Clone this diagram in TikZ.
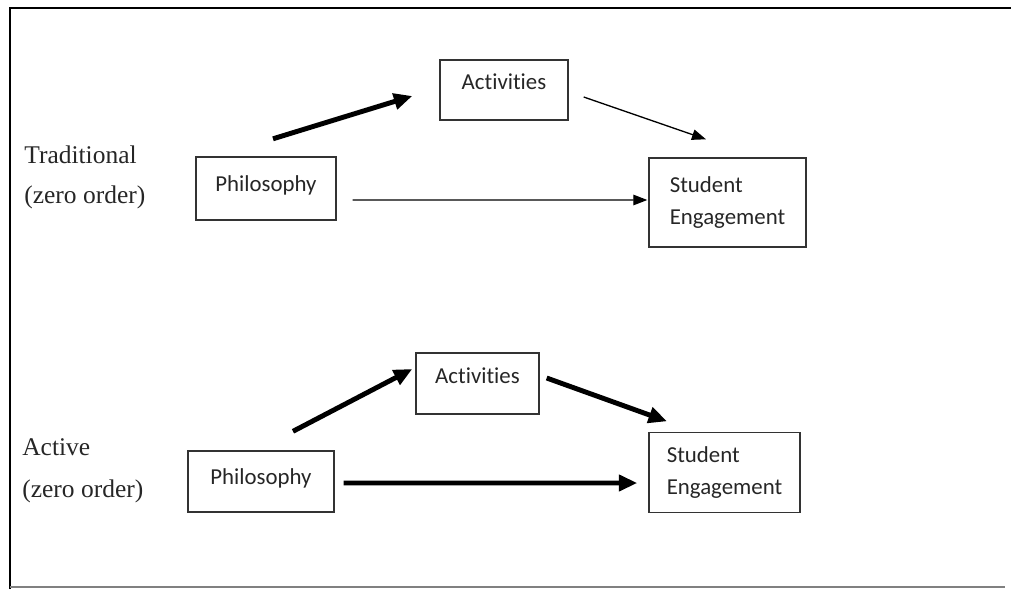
\documentclass[tikz,border=0pt]{standalone}
\usepackage{fontspec}
\setmainfont{Liberation Serif}
\newfontfamily\boxfont[Ligatures=NoCommon]{Carlito}
\usetikzlibrary{arrows.meta}

\tikzset{
  box/.style={draw=black!80, line width=0.8pt, text=black!85, font=\boxfont\fontsize{13}{18.5}\selectfont, align=left, inner sep=0pt},
  actbox/.style={box, text depth=9pt},
  phbox/.style={box, text depth=5.5pt},
  thinarr/.style={line width=0.75pt, -{Triangle[length=8pt,width=6pt]}},
  boldarr/.style={line width=2.8pt, -{Triangle[length=10.5pt,width=9pt]}},
  lbl/.style={font=\fontsize{14.5}{17}\selectfont, text=black!85, inner sep=0pt, anchor=base west}
}

\begin{document}
\begin{tikzpicture}[x=0.02cm,y=-0.02cm]
	\useasboundingbox (0,0) rectangle (1011,589);
	\draw[line width=1.7pt] (10,589)--(10,8)--(1011,8);
	\draw[gray, line width=1.2pt] (10,587)--(1005,587);

	% traditional
	\node[lbl] (tradname) at (24,163) {Traditional};
	\node[lbl] (tradzero) at (24,203) {(zero order)};
	\node[phbox, minimum width=2.8cm, minimum height=1.26cm] (ph1) at (266,188.5) {Philosophy};
	\node[actbox, minimum width=2.56cm, minimum height=1.2cm] (act1) at (504,90) {Activities};
	\node[box, minimum width=3.14cm, minimum height=1.78cm] (se1) at (727.5,202.5) {Student\\Engagement};
	\draw[boldarr] ([xshift=0.14cm,yshift=0.35cm]ph1.north)--([xshift=-0.54cm,yshift=-0.12cm]act1.west);
	\draw[thinarr] ([xshift=0.3cm,yshift=-0.14cm]act1.east)--([xshift=-0.43cm,yshift=0.36cm]se1.north);
	\draw[thinarr] ([xshift=0.32cm,yshift=-0.23cm]ph1.east)--([xshift=-0.02cm,yshift=0.05cm]se1.west);

	% active
	\node[lbl] (actname) at (22,455) {Active};
	\node[lbl] (actzero) at (22,497) {(zero order)};
	\node[phbox, minimum width=2.92cm, minimum height=1.22cm] (ph2) at (261,481.5) {Philosophy};
	\node[actbox, minimum width=2.46cm, minimum height=1.22cm] (act2) at (477.5,383.5) {Activities};
	\node[box, minimum width=3.02cm, minimum height=1.6cm] (se2) at (724.5,472.5) {Student\\Engagement};
	\draw[boldarr] ([xshift=0.64cm,yshift=0.38cm]ph2.north)--([xshift=-0.06cm,yshift=0.29cm]act2.west);
	\draw[boldarr] ([xshift=0.14cm,yshift=0.11cm]act2.east)--([xshift=-1.15cm,yshift=0.21cm]se2.north);
	\draw[boldarr] ([xshift=0.18cm,yshift=-0.03cm]ph2.east)--([xshift=-0.22cm,yshift=-0.21cm]se2.west);
\end{tikzpicture}
\end{document}
